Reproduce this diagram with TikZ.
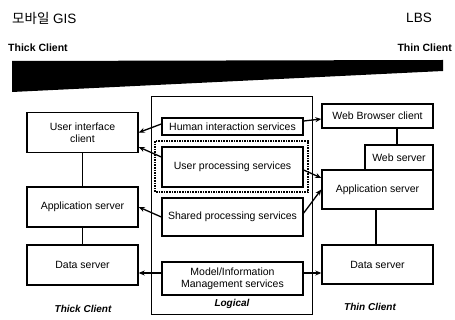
\documentclass[tikz,border=0pt]{standalone}
\usepackage{fontspec}
\setmainfont{Liberation Sans}
\newfontfamily\cjk{Noto Sans CJK KR}
\usetikzlibrary{arrows.meta}
\begin{document}
\begin{tikzpicture}[x=1pt,y=-1pt,
  box/.style={draw, line width=1.4pt, inner sep=1pt, align=center,
    font=\fontsize{10.5}{12}\selectfont},
  link/.style={line width=1.3pt},
  arr/.style={line width=1.3pt, -{Stealth[length=6pt,width=5pt]}},
  hdr/.style={inner sep=0pt, font=\bfseries\fontsize{10.5}{12}\selectfont},
  tag/.style={inner sep=0pt, font=\bfseries\itshape\fontsize{10}{12}\selectfont}
]
\useasboundingbox (0,0) rectangle (455,320);

% headings
\node[anchor=west, inner sep=0pt, font=\fontsize{13.5}{16}\selectfont] (ttl) at (12,18) {{\cjk 모바일} GIS};
\node[inner sep=0pt, font=\fontsize{13.5}{16}\selectfont] (lbs) at (419,18) {LBS};
\node[anchor=west, hdr] (thk) at (8,48) {Thick Client};
\node[anchor=east, hdr] (thn) at (452,48) {Thin Client};

% wedge bar from thick to thin
\fill (12,61) -- (443,60) -- (443,71) -- (12,92) -- cycle;

% logical frame
\node[draw, line width=1pt, minimum width=161pt, minimum height=217pt, inner sep=0pt] (logical) at (231.5,205.5) {};
\node[tag] (lgl) at (232,304) {Logical};

% logical services
\node[box, minimum width=141pt, minimum height=17pt] (hum) at (232.5,126.5) {Human interaction services};
\draw[densely dotted, line width=1.6pt] (155,141) rectangle (308,192);
\node[box, minimum width=141pt, minimum height=40pt] (uproc) at (232.5,167) {User processing services};
\node[box, minimum width=141pt, minimum height=38pt] (shared) at (232.5,217) {Shared processing services};
\node[box, minimum width=141pt, minimum height=33pt] (model) at (232.5,278.5) {Model/Information\\Management services};

% thick client tiers
\node[box, minimum width=111pt, minimum height=40pt] (ui) at (82.5,132.5) {User interface\\client};
\node[box, minimum width=111pt, minimum height=40pt] (lapp) at (82.5,207) {Application server};
\node[box, minimum width=111pt, minimum height=40pt] (ldata) at (82.5,265) {Data server};
\node[tag] (thkl) at (83,309) {Thick Client};

% thin client tiers
\node[box, minimum width=111pt, minimum height=24pt] (wb) at (377.5,116) {Web Browser client};
\node[box, minimum width=68pt, minimum height=25pt] (ws) at (399,157.5) {Web server};
\node[box, minimum width=111pt, minimum height=39pt] (rapp) at (377.5,189.5) {Application server};
\node[box, minimum width=111pt, minimum height=39pt] (rdata) at (377.5,264.5) {Data server};
\node[tag] (thnl) at (370,307) {Thin Client};

% tier links
\draw[link] (ui.south) -- (lapp.north);
\draw[link] (lapp.south) -- (ldata.north);
\draw[link] ([xshift=-2pt]ws.north) -- ([xshift=-2pt]ws.north |- wb.south);
\draw[link] ([xshift=-1.5pt]rapp.south) -- ([xshift=-1.5pt]rapp.south |- rdata.north);

% services mapped to thick client
\draw[arr] ([yshift=2.5pt]hum.west) -- (ui.east);
\draw[arr] ([yshift=10pt]uproc.west) -- ([yshift=-14.5pt]ui.east);
\draw[arr] (shared.west) -- (lapp.east);
\draw[arr] ([yshift=5.5pt]model.west) -- ([yshift=-8pt]ldata.east);

% services mapped to thin client
\draw[arr] ([yshift=5.5pt]hum.east) -- ([yshift=-3pt]wb.west);
\draw[arr] ([yshift=-3pt]uproc.east) -- ([yshift=11.5pt]rapp.west);
\draw[arr] ([yshift=4pt]shared.east) -- (rapp.west);
\draw[arr] ([yshift=5.5pt]model.east) -- ([yshift=-8.5pt]rdata.west);
\end{tikzpicture}
\end{document}
